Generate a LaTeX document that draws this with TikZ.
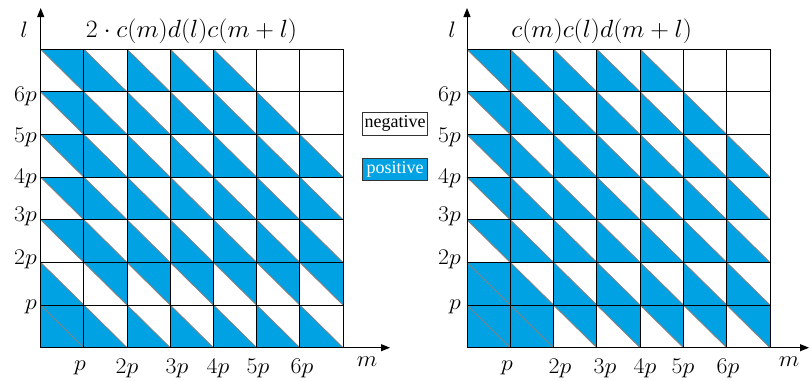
\documentclass[tikz,border=0pt]{standalone}
\usepackage{fontspec}
\usetikzlibrary{arrows.meta}
\newfontfamily\legfont{Liberation Serif}
\definecolor{posblue}{RGB}{0,162,228}
\definecolor{diaggray}{RGB}{130,130,130}
\tikzset{
  gridline/.style={black, line width=1pt},
  diagline/.style={diaggray, line width=0.9pt},
  axisline/.style={black, line width=1pt, -{Triangle[length=9pt,width=7pt]}},
  ticklab/.style={font=\fontsize{20.74}{25}\selectfont, inner sep=0pt},
  axislab/.style={font=\fontsize{20.74}{26}\selectfont, inner sep=0pt},
  titlelab/.style={font=\fontsize{24.88}{28}\selectfont, inner sep=0pt},
  legbox/.style={draw=black!80, line width=0.8pt, minimum width=64.6pt, minimum height=22.3pt, inner sep=0pt, font=\legfont\fontsize{18}{20}\selectfont},
}
\newcommand\tk[1]{\scalebox{1.15}[1.08]{$#1$}}
\newcommand\triU[2]{\fill[posblue] (#1,#2+1) -- (#1+1,#2+1) -- (#1+1,#2) -- cycle; \draw[diagline] (#1,#2+1) -- (#1+1,#2);}
\newcommand\triL[2]{\fill[posblue] (#1,#2+1) -- (#1,#2) -- (#1+1,#2) -- cycle; \draw[diagline] (#1,#2+1) -- (#1+1,#2);}
\newcommand\sqB[2]{\fill[posblue] (#1,#2) rectangle (#1+1,#2+1); \draw[diagline] (#1,#2+1) -- (#1+1,#2);}
\newcommand\gridlines{\foreach \k in {0,...,7} {\draw[gridline] (\k,0) -- (\k,7); \draw[gridline] (0,\k) -- (7,\k);}}
\begin{document}
\begin{tikzpicture}[x=1pt,y=-1pt]
\useasboundingbox (0,0) rectangle (810,380);
% ---------- left grid ----------
\begin{scope}[shift={(40.7,347.7)}, x=43.19pt, y=42.63pt]
  \foreach \j in {2,...,6} {\triU{0}{\j}}
  \foreach \i in {1,...,6} {\triU{\i}{1}}
  \foreach \i in {1,...,4} {\triL{\i}{6}}
  \foreach \i in {1,...,5} {\triL{\i}{5}}
  \foreach \j in {2,3,4} {\foreach \i in {1,...,6} {\triL{\i}{\j}}}
  \triL{0}{1}
  \foreach \i in {1,...,6} {\triL{\i}{0}}
  \sqB{0}{0}
  \gridlines
\end{scope}
% ---------- right grid ----------
\begin{scope}[shift={(467,347.7)}, x=43.29pt, y=42.63pt]
  \foreach \j in {2,...,6} {\triU{0}{\j}}
  \foreach \i in {2,...,6} {\triU{\i}{0}}
  \foreach \i in {1,...,4} {\triL{\i}{6}}
  \foreach \i in {1,...,5} {\triL{\i}{5}}
  \foreach \j in {1,2,3,4} {\foreach \i in {1,...,6} {\triL{\i}{\j}}}
  \sqB{0}{0}
  \sqB{0}{1}
  \sqB{1}{0}
  \gridlines
\end{scope}
% ---------- axes ----------
\coordinate (oL) at (40.7,347.7);
\coordinate (yL) at (40.7,8);
\coordinate (xL) at (390,347.7);
\coordinate (oR) at (467,347.7);
\coordinate (yR) at (467,8);
\coordinate (xR) at (809,347.7);
\draw[axisline] (oL) -- (yL);
\draw[axisline] (oL) -- (xL);
\draw[axisline] (oR) -- (yR);
\draw[axisline] (oR) -- (xR);
% ---------- axis labels and titles ----------
\node[axislab] (lL) at (24,30) {\tk{l}};
\node[axislab] (lR) at (452,30) {\tk{l}};
\node[axislab] (mL) at (367,362) {\tk{m}};
\node[axislab] (mR) at (789,362) {\tk{m}};
\node[titlelab] (tL) at (191.5,31) {\scalebox{1.04}[1]{$2\cdot c(m)d(l)c(m+l)$}};
\node[titlelab] (tR) at (601.7,31) {\scalebox{1.04}[1]{$c(m)c(l)d(m+l)$}};
% ---------- tick labels ----------
\foreach \t/\yy [count=\n] in {6p/96,5p/137,4p/178,3p/216,2p/259,p/307} {
  \node[ticklab, anchor=east] (yl\n) at (37,\yy) {\tk{\t}};
  \node[ticklab, anchor=east] (yr\n) at (461,\yy) {\tk{\t}};
}
\foreach \t/\xx [count=\n] in {p/80,2p/127,3p/177,4p/218,5p/258,6p/302} {
  \node[ticklab] (xl\n) at (\xx,368) {\tk{\t}};
}
\foreach \t/\xx [count=\n] in {p/507,2p/560,3p/605,4p/645,5p/683,6p/728} {
  \node[ticklab] (xr\n) at (\xx,368) {\tk{\t}};
}
% ---------- legend ----------
\node[legbox, fill=white, text=black] (neg) at (395,123.8) {negative};
\node[legbox, fill=posblue, text=white] (pos) at (395,169.6) {positive};
\end{tikzpicture}
\end{document}
